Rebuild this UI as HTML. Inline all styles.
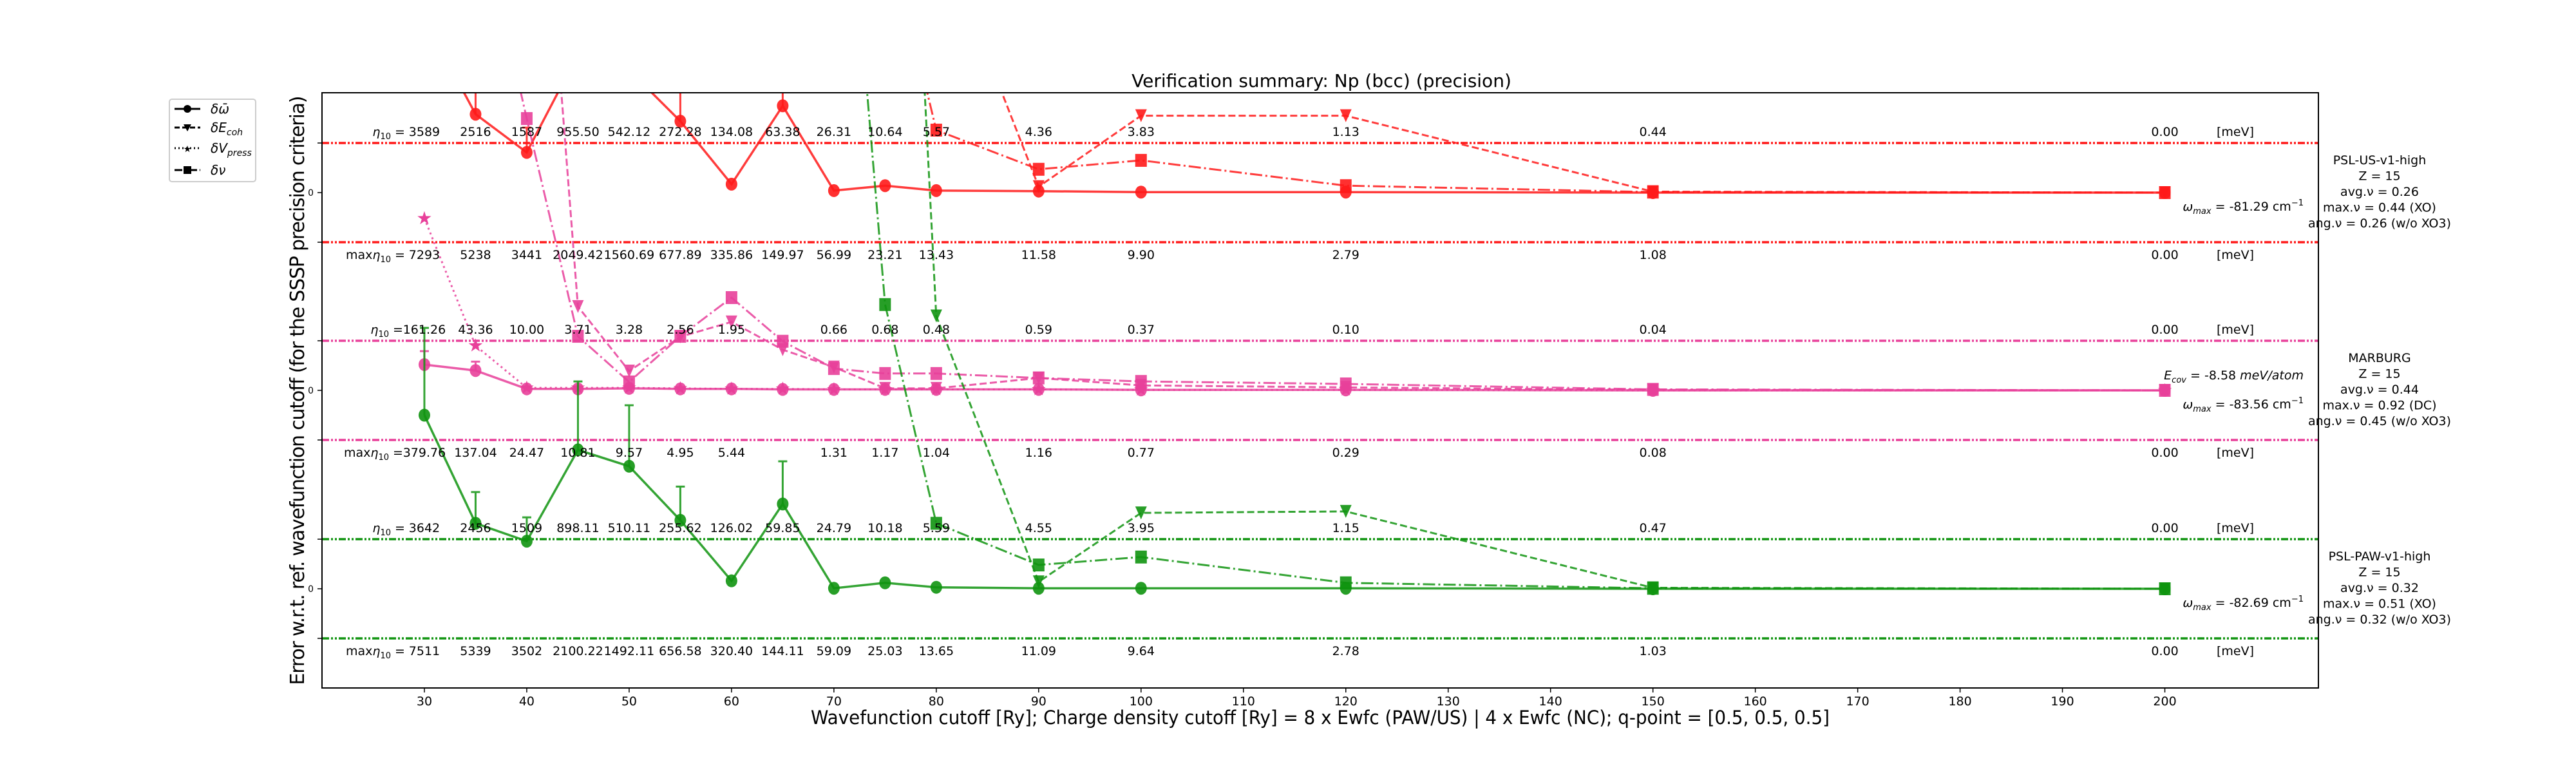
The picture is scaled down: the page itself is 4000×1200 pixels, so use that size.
<!DOCTYPE html>
<html><head><meta charset="utf-8"><style>
html,body{margin:0;padding:0;background:#fff;}
svg{display:block;font-family:"DejaVu Sans","Liberation Sans",sans-serif;}
</style></head><body>
<svg id="chart" width="4000" height="1200" viewBox="0 0 4000 1200" xmlns="http://www.w3.org/2000/svg">
<defs><clipPath id="plotclip"><rect x="500" y="144" width="3100" height="924"/></clipPath></defs>
<rect width="4000" height="1200" fill="#fff"/>
<text x="2052" y="135" font-size="28" text-anchor="middle">Verification summary: Np (bcc) (precision)</text>
<text transform="translate(472,606) rotate(-90)" font-size="30" text-anchor="middle" textLength="915" lengthAdjust="spacing">Error w.r.t. ref. wavefunction cutoff (for the SSSP precision criteria)</text>
<text x="2050" y="1124" font-size="29" text-anchor="middle" textLength="1582" lengthAdjust="spacingAndGlyphs">Wavefunction cutoff [Ry]; Charge density cutoff [Ry] = 8 x Ewfc (PAW/US) | 4 x Ewfc (NC); q-point = [0.5, 0.5, 0.5]</text>
<g id="plot"></g>
<rect x="500" y="144" width="3100" height="924" fill="none" stroke="#000" stroke-width="2"/>
<g>
<rect x="263" y="154" width="134" height="128" rx="4" fill="#fff" stroke="#ccc" stroke-width="2"/>
<line x1="271" y1="169" x2="311" y2="169" stroke="#000" stroke-width="3"/><circle cx="291" cy="169" r="6"/>
<text x="327" y="176" font-size="20" font-style="italic">δω̄</text>
<line x1="271" y1="198" x2="311" y2="198" stroke="#000" stroke-width="3" stroke-dasharray="8,4"/><path d="M285,193 L297,193 L291,204 Z"/>
<text x="327" y="205" font-size="20" font-style="italic">δE<tspan font-size="14" dy="5">coh</tspan></text>
<line x1="271" y1="230" x2="311" y2="230" stroke="#000" stroke-width="3" stroke-dasharray="2,4"/><text x="291" y="236" font-size="14" text-anchor="middle">★</text>
<text x="327" y="237" font-size="20" font-style="italic">δV<tspan font-size="14" dy="5">press</tspan></text>
<line x1="271" y1="264" x2="311" y2="264" stroke="#000" stroke-width="3" stroke-dasharray="12,4,3,4"/><rect x="285" y="258" width="12" height="12"/>
<text x="327" y="271" font-size="20" font-style="italic">δν</text>
</g>
</svg>
<script>
const cutoffs=[30,35,40,45,50,55,60,65,70,75,80,90,100,120,150,200];
const xTicks=[30,40,50,60,70,80,90,100,110,120,130,140,150,160,170,180,190,200];
// PSL-US-v1-high (red)
const usOmega=[3.5,1.58,0.81,2.79,2.47,1.44,0.17,1.75,0.04,0.14,0.04,0.03,0.01,0.01,0,0];
const usOmegaErr=[null,3.0,1.31,null,null,3.0,null,3.0,null,null,null,null,null,null,null,null];
const usEcoh=[20,20,20,20,20,20,20,20,20,20,5.4,0.12,1.55,1.55,0.02,0];
const usNu=[15,15,15,15,15,15,15,15,15,5.56,1.26,0.47,0.65,0.14,0.01,0];
const usEta=["3589","2516","1587","955.50","542.12","272.28","134.08","63.38","26.31","10.64","5.57","4.36","3.83","1.13","0.44","0.00"];
const usMaxEta=["7293","5238","3441","2049.42","1560.69","677.89","335.86","149.97","56.99","23.21","13.43","11.58","9.90","2.79","1.08","0.00"];
// MARBURG (pink)
const mbOmega=[0.52,0.40,0.03,0.03,0.04,0.03,0.03,0.02,0.02,0.02,0.02,0.02,0.01,0.01,0,0];
const mbOmegaErr=[0.79,0.58,null,null,null,null,null,null,null,null,null,null,null,null,null,null];
const mbVpress=[3.47,0.9,0.05,0.05,0.05,0.04,0.03,0.03,0.02,0.02,0.02,0.02,0.01,0.01,0,0];
const mbEcoh=[25,20,15,1.69,0.39,1.08,1.38,0.82,0.47,0.04,0.04,0.25,0.10,0.06,0.01,0];
const mbNu=[15,10,5.48,1.09,0.17,1.09,1.87,0.99,0.44,0.34,0.34,0.25,0.18,0.13,0.02,0];
const mbEta=["161.26","43.36","10.00","3.71","3.28","2.56","1.95","","0.66","0.68","0.48","0.59","0.37","0.10","0.04","0.00"];
const mbMaxEta=["379.76","137.04","24.47","10.81","9.57","4.95","5.44","","1.31","1.17","1.04","1.16","0.77","0.29","0.08","0.00"];
// PSL-PAW-v1-high (green)
const pawOmega=[3.5,1.32,0.96,2.8,2.47,1.38,0.16,1.71,0.01,0.12,0.03,0.01,0.01,0.01,0,0];
const pawOmegaErr=[5.26,1.95,1.44,4.18,3.7,2.06,null,2.57,null,null,null,null,null,null,null,null];
const pawEcoh=[40,40,40,40,40,40,40,40,40,25.5,5.5,0.14,1.53,1.56,0.02,0];
const pawNu=[30,30,30,30,30,30,30,30,17.9,5.73,1.32,0.48,0.64,0.12,0.01,0];
const pawEta=["3642","2456","1509","898.11","510.11","255.62","126.02","59.85","24.79","10.18","5.59","4.55","3.95","1.15","0.47","0.00"];
const pawMaxEta=["7511","5339","3502","2100.22","1492.11","656.58","320.40","144.11","59.09","25.03","13.65","11.09","9.64","2.78","1.03","0.00"];

const NS="http://www.w3.org/2000/svg";
const plot=document.getElementById('plot');
const X0=500,X1=3600,Y0=144,Y1=1068,XMIN=20,XMAX=215,UNIT=77;
const zeros=[299,606,914];
function xs(v){return X0+(v-XMIN)/(XMAX-XMIN)*(X1-X0);}
function ys(p,v){return zeros[p]-v*UNIT;}
function mk(tag,attrs,parent){const e=document.createElementNS(NS,tag);for(const k in attrs)e.setAttribute(k,attrs[k]);(parent||plot).appendChild(e);return e;}

const clipG=mk('g',{'clip-path':'url(#plotclip)'});



const panels=[
 {name:'psl-us',color:'#ff1a1a',omega:usOmega,err:usOmegaErr,ecoh:usEcoh,nu:usNu,vp:null,eta:usEta,maxeta:usMaxEta,sep:' = ',
  lines:['PSL-US-v1-high','Z = 15','avg.ν = 0.26','max.ν = 0.44 (XO)','ang.ν = 0.26 (w/o XO3)'],wmax:'-81.29',ecov:null},
 {name:'marburg',color:'#e8409a',omega:mbOmega,err:mbOmegaErr,ecoh:mbEcoh,nu:mbNu,vp:mbVpress,eta:mbEta,maxeta:mbMaxEta,sep:' =',
  lines:['MARBURG','Z = 15','avg.ν = 0.44','max.ν = 0.92 (DC)','ang.ν = 0.45 (w/o XO3)'],wmax:'-83.56',ecov:'-8.58'},
 {name:'psl-paw',color:'#109410',omega:pawOmega,err:pawOmegaErr,ecoh:pawEcoh,nu:pawNu,vp:null,eta:pawEta,maxeta:pawMaxEta,sep:' = ',
  lines:['PSL-PAW-v1-high','Z = 15','avg.ν = 0.32','max.ν = 0.51 (XO)','ang.ν = 0.32 (w/o XO3)'],wmax:'-82.69',ecov:null}
];

function pathOf(p,arr){let d='';arr.forEach((v,i)=>{if(v===null)return;d+=(d?'L':'M')+xs(cutoffs[i]).toFixed(1)+','+ys(p,v).toFixed(1);});return d;}

panels.forEach((P,p)=>{
  const g=mk('g',{},clipG);
  
  
  [1,-1].forEach(s=>{
    const l=mk('line',{x1:X0,x2:X1,y1:ys(p,s),y2:ys(p,s),stroke:P.color,'stroke-width':3.5,'stroke-dasharray':'11,3,3,3,3,3'},g);
    
    
  });
  P.err.forEach((e,i)=>{ if(e===null)return;
    const x=xs(cutoffs[i]);
    const b=mk('path',{d:`M${x},${ys(p,P.omega[i])}L${x},${ys(p,e)}M${x-7},${ys(p,e)}L${x+7},${ys(p,e)}`,stroke:P.color,'stroke-width':3,fill:'none',opacity:0.85},g);
    
    
  });
  const series=[
    {arr:P.ecoh,dash:'11,5',m:'tri',key:'ecoh',w:3},
    {arr:P.nu,dash:'19,5,3,5',m:'sq',key:'nu',w:3},
    {arr:P.vp,dash:'3,5',m:'star',key:'vpress',w:3},
    {arr:P.omega,dash:null,m:'circ',key:'omega',w:3.5}
  ];
  series.forEach(S=>{ if(!S.arr)return;
    const a={d:pathOf(p,S.arr),fill:'none',stroke:P.color,'stroke-width':S.w,opacity:0.85};
    if(S.dash)a['stroke-dasharray']=S.dash;
    const ln=mk('path',a,g);
    
    
    S.arr.forEach((v,i)=>{ if(v===null)return;
      const x=xs(cutoffs[i]),y=ys(p,v); if(y<Y0-20||y>Y1+20)return;
      let m;
      if(S.m==='circ') m=mk('ellipse',{cx:x,cy:y,rx:9,ry:10,fill:P.color,opacity:0.9},g);
      else if(S.m==='sq') m=mk('rect',{x:x-9,y:y-10,width:18,height:20,fill:P.color,opacity:0.9},g);
      else if(S.m==='tri') m=mk('path',{d:`M${x-9},${y-10}L${x+9},${y-10}L${x},${y+10}Z`,fill:P.color,opacity:0.9},g);
      else { m=mk('text',{x:x,y:y+9,'font-size':28,'text-anchor':'middle',fill:P.color},g); m.textContent='★'; }
      
      
    });
  });
  [[P.eta,'η','10'+P.sep],[P.maxeta,'maxη','10'+P.sep]].forEach((row,ri)=>{
    const yb= ri===0 ? ys(p,1)-11 : ys(p,-1)+26;
    row[0].forEach((s,i)=>{ if(!s)return;
      const x=xs(cutoffs[i]);
      const t=mk('text',{x:x,y:yb,'font-size':19,'text-anchor':'middle'});
      t.textContent=s;
      
      
      if(i===0){
        const w=s.replace('.','').length*12+(s.includes('.')?6:0);
        const pre=mk('text',{x:x-w/2-(P.sep===' ='?0:6),y:yb,'font-size':19,'text-anchor':'end'});
        pre.innerHTML=(ri?'max':'')+'<tspan font-style="italic">η</tspan><tspan font-size="13" dy="5">10</tspan><tspan dy="-5">'+P.sep+'</tspan>';
        
        
      }
    });
    const u=mk('text',{x:3471,y:yb,'font-size':19,'text-anchor':'middle'});
    u.textContent='[meV]';
    
    
  });
  [1,0,-1].forEach(s=>{
    const tk=mk('line',{x1:493,x2:500,y1:ys(p,s),y2:ys(p,s),stroke:'#000','stroke-width':1.5});
    
    
  });
  const z=mk('text',{x:487,y:zeros[p]+5,'font-size':14,'text-anchor':'end'});
  z.textContent='0';
  
  
  const info=mk('text',{x:3695,y:0,'font-size':19,'text-anchor':'middle'});
  
  
  const base=zeros[p]-44;
  P.lines.forEach((L,k)=>{const ts=mk('tspan',{x:3695,y:base+k*24.5},info);ts.textContent=L;});
  const wm=mk('text',{x:3577,y:zeros[p]+28,'font-size':19,'text-anchor':'end'});
  wm.innerHTML='<tspan font-style="italic">ω</tspan><tspan font-size="13" dy="5" font-style="italic">max</tspan><tspan dy="-5"> = '+P.wmax+' cm</tspan><tspan font-size="13" dy="-8">−1</tspan>';
  
  
  if(P.ecov){
    const ec=mk('text',{x:3577,y:zeros[p]-17,'font-size':19,'text-anchor':'end','font-style':'italic'});
    ec.innerHTML='E<tspan font-size="13" dy="5">cov</tspan><tspan dy="-5" font-style="normal"> = '+P.ecov+' </tspan>meV/atom';
    
    
  }
});
xTicks.forEach(v=>{
  const x=xs(v);
  const tk=mk('line',{x1:x,x2:x,y1:Y1,y2:Y1+7,stroke:'#000','stroke-width':1.5});
  
  
  const t=mk('text',{x:x,y:Y1+27,'font-size':19,'text-anchor':'middle'});
  t.textContent=v;
  
  
});
</script>
</body></html>
